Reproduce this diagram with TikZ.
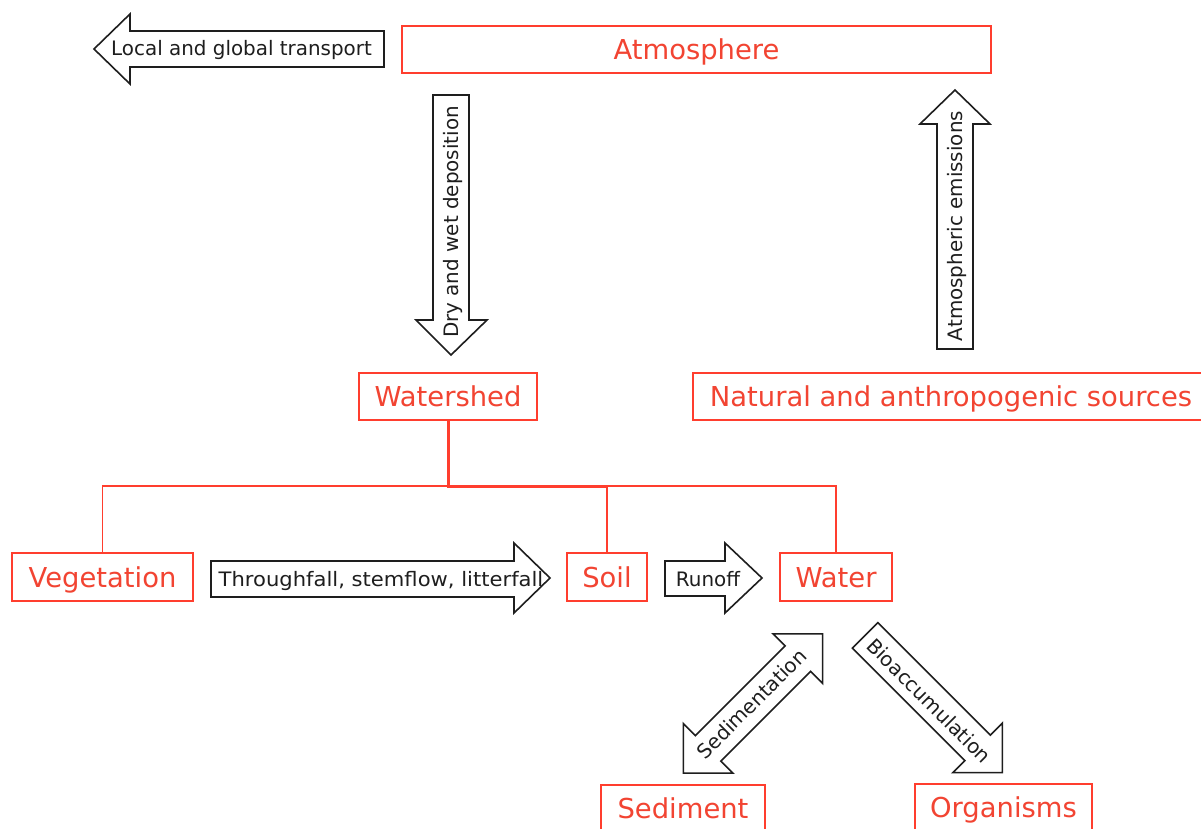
\documentclass[tikz,border=0pt]{standalone}
\usepackage{fontspec}
\setmainfont{DejaVu Sans}
\definecolor{boxred}{RGB}{255,62,46}
\definecolor{textred}{RGB}{242,68,50}
\definecolor{arrowgray}{RGB}{30,30,30}
\begin{document}
\begin{tikzpicture}[x=1pt,y=-1pt,
  redbox/.style={draw=boxred, line width=1.6pt, inner sep=0pt, text=textred,
    font=\fontsize{27.4}{30}\selectfont, text height=20.5pt, text depth=0pt},
  fatarrow/.style={draw=arrowgray, line width=1.6pt, fill=white, line join=miter},
  arrowtext/.style={inner sep=0pt, text=arrowgray,
    font=\fontsize{19.9}{22}\selectfont, text height=14pt, text depth=0pt},
  treeline/.style={draw=boxred, line width=1.6pt},
  treethick/.style={draw=boxred, line width=3pt}]
\clip (0,0) rectangle (1201,829);
\fill[white] (0,0) rectangle (1201,829);

% red boxes
\node[redbox, minimum width=589pt, minimum height=47pt] (Atmosphere) at (696.5,49.5) {Atmosphere};
\node[redbox, minimum width=178pt, minimum height=47pt] (Watershed) at (448,396.5) {Watershed};
\node[redbox, minimum width=516pt, minimum height=47pt] (Sources) at (951,396.5) {Natural and anthropogenic sources};
\node[redbox, minimum width=181pt, minimum height=48pt] (Vegetation) at (102.5,577) {Vegetation};
\node[redbox, minimum width=80pt, minimum height=48pt] (Soil) at (607,577) {Soil};
\node[redbox, minimum width=112pt, minimum height=48pt] (Water) at (836,577) {Water};
\node[redbox, minimum width=164pt, minimum height=47pt] (Sediment) at (683,808.5) {Sediment};
\node[redbox, minimum width=177pt, minimum height=47pt] (Organisms) at (1003.5,807.5) {Organisms};

% tree connectors
\coordinate (hub) at (448,486);
\draw[treeline] (Vegetation.north) -- (Vegetation.north |- hub) -- (Water.north |- hub) -- (Water.north);
\draw[treeline] (Soil.north) -- (Soil.north |- hub);
\draw[treethick] (Watershed.south) -- (hub) -- (Soil.north |- hub);

% Local and global transport (pointing left)
\draw[fatarrow] (94,49) -- (130,14) -- (130,31) -- (384,31) -- (384,67) -- (130,67) -- (130,84) -- cycle;
\node[arrowtext] (transport) at (241.5,49) {Local and global transport};

% Dry and wet deposition (pointing down)
\draw[fatarrow] (451,355) -- (416,320) -- (433,320) -- (433,95) -- (469,95) -- (469,320) -- (487,320) -- cycle;
\node[arrowtext, rotate=90] (deposition) at (451,222) {Dry and wet deposition};

% Atmospheric emissions (pointing up)
\draw[fatarrow] (955,90) -- (990,124) -- (973,124) -- (973,349) -- (937,349) -- (937,124) -- (920,124) -- cycle;
\node[arrowtext, rotate=90] (emissions) at (955,226) {Atmospheric emissions};

% Throughfall (pointing right)
\draw[fatarrow] (550,578) -- (514,543) -- (514,561) -- (211,561) -- (211,597) -- (514,597) -- (514,613) -- cycle;
\node[arrowtext, xscale=1.06] (throughfall) at (381,579) {Throughfall, stemflow, litterfall};

% Runoff (pointing right)
\draw[fatarrow] (762,578) -- (725,543) -- (725,561) -- (665,561) -- (665,596) -- (725,596) -- (725,613) -- cycle;
\node[arrowtext] (runoff) at (708,579) {Runoff};

% Sedimentation (double arrow)
\begin{scope}[shift={(753,703.5)}, rotate=45]
\draw[fatarrow] (-98.5,0) -- (-63.5,35) -- (-63.5,18) -- (63.5,18) -- (63.5,35) -- (98.5,0)
  -- (63.5,-35) -- (63.5,-18) -- (-63.5,-18) -- (-63.5,-35) -- cycle;
\end{scope}
\node[arrowtext, rotate=45] (sedimentation) at (752,704) {Sedimentation};

% Bioaccumulation (pointing down-right)
\begin{scope}[shift={(933.75,704)}, rotate=-45]
\draw[fatarrow] (97,0) -- (62,35) -- (62,18) -- (-97,18) -- (-97,-18) -- (62,-18) -- (62,-35) -- cycle;
\end{scope}
\node[arrowtext, rotate=-45] (bioaccumulation) at (929,701) {Bioaccumulation};
\end{tikzpicture}
\end{document}
